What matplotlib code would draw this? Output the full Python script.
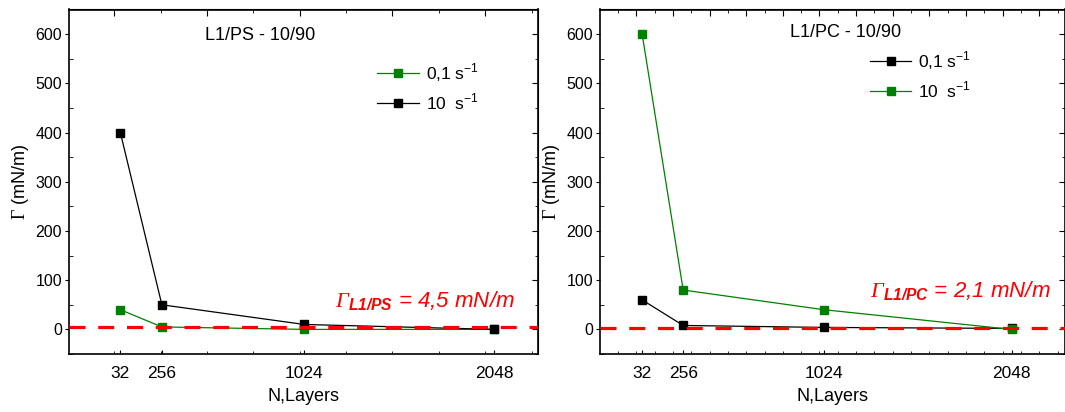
import numpy as np
import matplotlib
matplotlib.use("Agg")
import matplotlib.pyplot as plt
from matplotlib.ticker import MultipleLocator

plt.rcParams['font.family'] = ['Liberation Sans', 'DejaVu Sans']
plt.rcParams['mathtext.fontset'] = 'custom'
plt.rcParams['mathtext.rm'] = 'Liberation Serif'
plt.rcParams['mathtext.sf'] = 'Liberation Serif:italic'
plt.rcParams['mathtext.bf'] = 'Liberation Sans:bold:italic'

# ---------------- dados ----------------
camadas = [32, 256, 1024, 2048]
rotulos_x = ['32', '256', '1024', '2048']

ps_01 = [40, 5, 0, 0]        # 0,1 s-1  (verde)
ps_10 = [400, 50, 10, 0]     # 10 s-1   (preto)
gamma_ps = 4.5

pc_01 = [60, 8, 4, 2]        # 0,1 s-1  (preto)
pc_10 = [600, 80, 40, 0]     # 10 s-1   (verde)
gamma_pc = 2.1

VERDE = '#008000'
PRETO = '#000000'

fig = plt.figure(figsize=(10.65, 4.12), dpi=100)
ax1 = fig.add_axes([69/1065, 1-354/412, 469/1065, 344.5/412])
ax2 = fig.add_axes([600/1065, 1-354/412, 465/1065, 344.5/412])


def desenhar(ax, series, gamma, titulo, sub_gamma, txt_gamma, pos_titulo,
             pos_gamma, xlim, passo_topo, leg_anchor):
    for y, cor, lab in series:
        ax.plot(camadas, y, '-', color=cor, lw=0.9, marker='s', ms=5.2,
                mfc=cor, mec=cor, label=lab, zorder=2)
    ax.axhline(gamma, color='#ff0000', lw=2.3, dashes=(5, 4), zorder=3)

    ax.set_xlim(*xlim)
    ax.set_ylim(-50, 650)
    ax.set_xticks(camadas)
    ax.set_xticklabels(rotulos_x)
    ax.xaxis.set_minor_locator(MultipleLocator(passo_topo))
    ax.yaxis.set_minor_locator(MultipleLocator(50))
    ax.set_yticks([0, 100, 200, 300, 400, 500, 600])
    ax.tick_params(axis='x', which='major', direction='in', length=3,
                   labelsize=12.5, pad=9)
    ax.tick_params(axis='x', which='minor', direction='in', length=2.5)
    ax.tick_params(axis='y', which='major', direction='out', length=3,
                   labelsize=11.5, pad=2)
    ax.tick_params(axis='y', which='minor', direction='in', length=3)

    topo = ax.secondary_xaxis('top')
    topo.xaxis.set_major_locator(MultipleLocator(passo_topo * 2))
    topo.xaxis.set_minor_locator(MultipleLocator(passo_topo))
    topo.tick_params(which='major', direction='in', length=5, labeltop=False)
    topo.tick_params(which='minor', direction='in', length=3)

    dir_ = ax.secondary_yaxis('right')
    dir_.yaxis.set_major_locator(MultipleLocator(100))
    dir_.yaxis.set_minor_locator(MultipleLocator(50))
    dir_.tick_params(which='major', direction='in', length=4, labelright=False)
    dir_.tick_params(which='minor', direction='in', length=2.5)

    for sp in ax.spines.values():
        sp.set_linewidth(1.2)

    ax.set_xlabel('N,Layers', fontsize=13, labelpad=5)
    ax.set_ylabel(r'$\Gamma$ (mN/m)', fontsize=13, labelpad=3)

    ax.text(pos_titulo[0], pos_titulo[1], titulo, fontsize=13,
            ha='center', va='center')
    rotulo = r'$\mathsf{\Gamma}_{\mathbf{' + sub_gamma + r'}}$' + txt_gamma
    ax.text(pos_gamma[0], pos_gamma[1], rotulo, fontsize=16,
            color='#ff0000', style='italic', ha='left', va='baseline')

    ax.legend(loc='upper left', bbox_to_anchor=leg_anchor, frameon=False,
              fontsize=12.5, handlelength=2.4, handletextpad=0.4,
              labelspacing=0.45, borderpad=0, borderaxespad=0)


desenhar(ax1,
         [(ps_01, VERDE, r'0,1 s$^{\mathregular{-1}}$'),
          (ps_10, PRETO, r'10  s$^{\mathregular{-1}}$')],
         gamma_ps, 'L1/PS - 10/90', 'L1/PS', ' = 4,5 mN/m',
         (785, 597), (1190, 45), (-245, 2285), 250, (0.657, 0.85))

desenhar(ax2,
         [(pc_01, PRETO, r'0,1 s$^{\mathregular{-1}}$'),
          (pc_10, VERDE, r'10  s$^{\mathregular{-1}}$')],
         gamma_pc, 'L1/PC - 10/90', 'L1/PC', ' = 2,1 mN/m',
         (1142, 604), (1275, 64), (-198, 2340), 100, (0.58, 0.885))

fig.savefig('out.png', dpi=100)
